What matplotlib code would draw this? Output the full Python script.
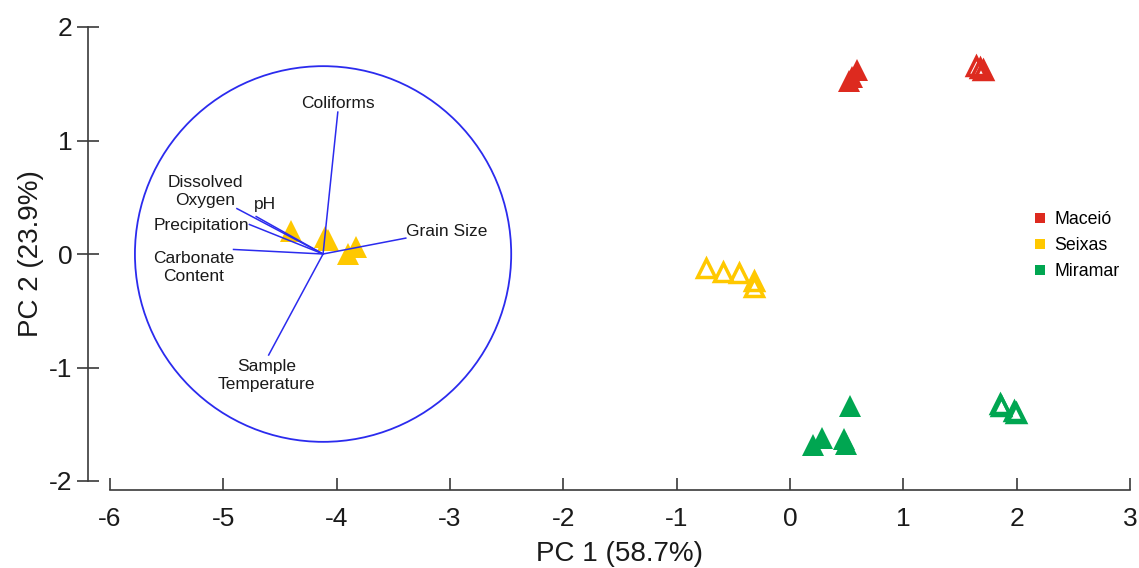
import matplotlib
matplotlib.use("Agg")
import matplotlib.pyplot as plt
from matplotlib.patches import Ellipse
from matplotlib.lines import Line2D

plt.rcParams['font.family'] = ['Liberation Sans', 'DejaVu Sans']

# ---- data ----
groups = ["Maceió", "Seixas", "Miramar"]
colors = {"Maceió": "#DD2A1F", "Seixas": "#FFC800", "Miramar": "#00A651"}

maceio_filled_x = [0.52, 0.55, 0.59]
maceio_filled_y = [1.52, 1.56, 1.62]
maceio_open_x = [1.64, 1.68, 1.70]
maceio_open_y = [1.66, 1.64, 1.62]

seixas_filled_x = [-4.40, -4.10, -4.08, -3.83, -3.90]
seixas_filled_y = [0.20, 0.15, 0.12, 0.06, 0.00]
seixas_open_x = [-0.74, -0.59, -0.45, -0.32, -0.32]
seixas_open_y = [-0.12, -0.16, -0.17, -0.24, -0.29]

miramar_filled_x = [0.53, 0.28, 0.20, 0.48, 0.49]
miramar_filled_y = [-1.34, -1.62, -1.68, -1.63, -1.67]
miramar_open_x = [1.85, 1.86, 1.98, 1.99]
miramar_open_y = [-1.32, -1.34, -1.38, -1.40]

# biplot vectors
origin = (-4.12, 0.0)
var_names = ["Coliforms", "Grain Size", "Carbonate Content", "Precipitation",
             "Dissolved Oxygen", "pH", "Sample Temperature"]
var_end_x = [-3.99, -3.39, -4.91, -4.77, -4.88, -4.71, -4.60]
var_end_y = [1.25, 0.14, 0.04, 0.26, 0.40, 0.33, -0.89]
var_labels = ["Coliforms", "Grain Size", "Carbonate\nContent", "Precipitation",
              "Dissolved\nOxygen", "pH", "Sample\nTemperature"]
label_x = [-3.99, -3.03, -5.26, -5.19, -5.16, -4.63, -4.62]
label_y = [1.33, 0.20, -0.12, 0.25, 0.55, 0.44, -1.07]
circle_rx = 1.66
circle_ry = 1.655

x_ticks = [-6, -5, -4, -3, -2, -1, 0, 1, 2, 3]
y_ticks = [-2, -1, 0, 1, 2]

# ---- figure ----
W, H = 1139, 568
fig = plt.figure(figsize=(W / 100, H / 100), dpi=100)
ax = fig.add_axes([110 / W, 87 / H, 1020 / W, 454 / H])
ax.set_xlim(-6, 3)
ax.set_ylim(-2, 2)

blue = "#2B2BEE"
ax.add_patch(Ellipse(origin, 2 * circle_rx, 2 * circle_ry, fill=False,
                     edgecolor=blue, lw=1.3, zorder=4))
for ex, ey in zip(var_end_x, var_end_y):
    ax.plot([origin[0], ex], [origin[1], ey], color=blue, lw=1.1, zorder=4)
for lab, lx, ly in zip(var_labels, label_x, label_y):
    ax.text(lx, ly, lab, ha='center', va='center', fontsize=12.5,
            color="#1a1a1a", linespacing=1.3, zorder=5)

ms_f = 16
ms_o = 13.2
mew_o = 2.5
for fx, fy, ox, oy, g in [
    (maceio_filled_x, maceio_filled_y, maceio_open_x, maceio_open_y, "Maceió"),
    (seixas_filled_x, seixas_filled_y, seixas_open_x, seixas_open_y, "Seixas"),
    (miramar_filled_x, miramar_filled_y, miramar_open_x, miramar_open_y, "Miramar"),
]:
    c = colors[g]
    ax.plot(fx, fy, linestyle='none', marker='^', ms=ms_f, color=c,
            markeredgewidth=0, zorder=3)
    ax.plot(ox, oy, linestyle='none', marker='^', ms=ms_o, markerfacecolor='none',
            markeredgecolor=c, markeredgewidth=mew_o, zorder=3)

# axes styling
for s in ['top', 'right']:
    ax.spines[s].set_visible(False)
spine_c = "#3a3a3a"
ax.spines['left'].set_position(('outward', 22 * 0.72))
ax.spines['bottom'].set_position(('outward', 9 * 0.72))
for s in ['left', 'bottom']:
    ax.spines[s].set_color(spine_c)
    ax.spines[s].set_linewidth(1.2)
ax.set_xticks(x_ticks)
ax.set_yticks(y_ticks)
ax.set_xticklabels([str(t) for t in x_ticks])
ax.set_yticklabels([str(t) for t in y_ticks])
ax.tick_params(axis='y', direction='inout', length=16, width=1.2, color=spine_c,
               labelsize=19, pad=3, labelcolor="#1a1a1a")
ax.tick_params(axis='x', direction='in', length=8.5, width=1.2, color=spine_c,
               labelsize=19, pad=12.5, labelcolor="#1a1a1a")

ax.set_xlabel("PC 1 (58.7%)", fontsize=20, color="#1a1a1a")
ax.set_ylabel("PC 2 (23.9%)", fontsize=20, color="#1a1a1a")
ax.xaxis.set_label_coords(0.5, (27 - 87) / 454)
ax.yaxis.set_label_coords((44 - 110) / 1020, 0.5)

handles = [Line2D([], [], linestyle='none', marker='s', ms=7.5,
                  color=colors[g], markeredgewidth=0) for g in groups]
fig.legend(handles, groups, loc='upper left', bbox_to_anchor=(1034 / W, 1 - 211 / H),
           frameon=False, fontsize=12.8, handlelength=0.7, handletextpad=0.45,
           labelspacing=0.5, borderpad=0, borderaxespad=0)

fig.savefig("out.png", dpi=100)
